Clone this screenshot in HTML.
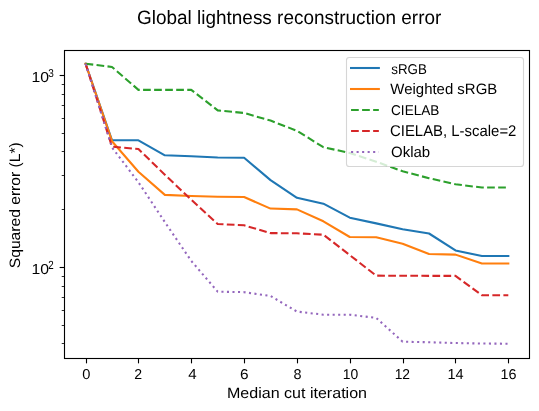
<!DOCTYPE html>
<html><head><meta charset="utf-8"><title>Global lightness reconstruction error</title><style>
html,body{margin:0;padding:0;background:#fff;width:539px;height:411px;overflow:hidden}
svg{display:block;will-change:transform}
text{font-family:"Liberation Sans",sans-serif;fill:#000;text-rendering:geometricPrecision}
</style></head><body>
<svg width="539" height="411" viewBox="0 0 539 411">
<rect x="0" y="0" width="539" height="411" fill="#fff"/>
<polyline points="85.58,63.72 112.00,140.30 138.43,140.30 164.85,155.32 191.27,156.22 217.69,157.52 244.11,157.72 270.53,180.14 296.95,197.76 323.37,203.67 349.79,217.68 376.21,223.39 402.63,229.20 429.05,233.50 455.47,250.42 481.89,256.03 508.31,256.03" fill="none" stroke="#1f77b4" stroke-width="2.083" stroke-linecap="square" stroke-linejoin="round"/>
<polyline points="85.58,63.72 112.00,141.20 138.43,171.74 164.85,194.86 191.27,196.06 217.69,196.76 244.11,197.06 270.53,208.58 296.95,209.38 323.37,221.29 349.79,237.01 376.21,237.31 402.63,243.81 429.05,254.02 455.47,254.62 481.89,263.43 508.31,263.43" fill="none" stroke="#ff7f0e" stroke-width="2.083" stroke-linecap="square" stroke-linejoin="round"/>
<polyline points="85.58,63.72 112.00,66.92 138.43,89.85 164.85,89.85 191.27,89.85 217.69,110.37 244.11,112.97 270.53,120.58 296.95,130.79 323.37,147.21 349.79,153.02 376.21,161.73 402.63,171.24 429.05,178.24 455.47,184.25 481.89,187.55 508.31,187.55" fill="none" stroke="#2ca02c" stroke-width="2.083" stroke-dasharray="7.708 3.333" stroke-linecap="butt" stroke-linejoin="round"/>
<polyline points="85.58,63.72 112.00,146.71 138.43,149.01 164.85,174.74 191.27,199.77 217.69,223.99 244.11,225.29 270.53,233.10 296.95,233.30 323.37,234.70 349.79,255.13 376.21,275.65 402.63,275.75 429.05,275.85 455.47,275.85 481.89,295.17 508.31,295.17" fill="none" stroke="#d62728" stroke-width="2.083" stroke-dasharray="7.708 3.333" stroke-linecap="butt" stroke-linejoin="round"/>
<polyline points="85.58,63.72 112.00,147.41 138.43,182.25 164.85,222.09 191.27,260.93 217.69,291.66 244.11,292.16 270.53,295.97 296.95,311.59 323.37,314.69 349.79,314.69 376.21,317.89 402.63,341.72 429.05,342.22 455.47,343.02 481.89,343.52 508.31,343.72" fill="none" stroke="#9467bd" stroke-width="2.083" stroke-dasharray="2.083 3.438" stroke-linecap="butt" stroke-linejoin="round"/>
<rect x="346.5" y="57.5" width="177" height="109" rx="2.78" ry="2.78" fill="#fff" fill-opacity="0.8" stroke="#ccc" stroke-opacity="0.8" stroke-width="1.11"/>
<line x1="351.06" y1="68" x2="378.84" y2="68" fill="none" stroke="#1f77b4" stroke-width="2.083" stroke-linecap="square" stroke-linejoin="round"/>
<line x1="351.06" y1="89" x2="378.84" y2="89" fill="none" stroke="#ff7f0e" stroke-width="2.083" stroke-linecap="square" stroke-linejoin="round"/>
<line x1="351.06" y1="110" x2="378.84" y2="110" fill="none" stroke="#2ca02c" stroke-width="2.083" stroke-dasharray="7.708 3.333" stroke-linecap="butt" stroke-linejoin="round"/>
<line x1="351.06" y1="131" x2="378.84" y2="131" fill="none" stroke="#d62728" stroke-width="2.083" stroke-dasharray="7.708 3.333" stroke-linecap="butt" stroke-linejoin="round"/>
<line x1="351.06" y1="152" x2="378.84" y2="152" fill="none" stroke="#9467bd" stroke-width="2.083" stroke-dasharray="2.083 3.438" stroke-linecap="butt" stroke-linejoin="round"/>
<rect x="64.5" y="50.5" width="465" height="308" fill="none" stroke="#000" stroke-width="1.11" stroke-linecap="square"/>
<line x1="86.5" y1="358.5" x2="86.5" y2="363.36" stroke="#000" stroke-width="1.11"/>
<line x1="138.5" y1="358.5" x2="138.5" y2="363.36" stroke="#000" stroke-width="1.11"/>
<line x1="191.5" y1="358.5" x2="191.5" y2="363.36" stroke="#000" stroke-width="1.11"/>
<line x1="244.5" y1="358.5" x2="244.5" y2="363.36" stroke="#000" stroke-width="1.11"/>
<line x1="297.5" y1="358.5" x2="297.5" y2="363.36" stroke="#000" stroke-width="1.11"/>
<line x1="350.5" y1="358.5" x2="350.5" y2="363.36" stroke="#000" stroke-width="1.11"/>
<line x1="403.5" y1="358.5" x2="403.5" y2="363.36" stroke="#000" stroke-width="1.11"/>
<line x1="455.5" y1="358.5" x2="455.5" y2="363.36" stroke="#000" stroke-width="1.11"/>
<line x1="508.5" y1="358.5" x2="508.5" y2="363.36" stroke="#000" stroke-width="1.11"/>
<line x1="59.64" y1="75.5" x2="64.5" y2="75.5" stroke="#000" stroke-width="1.11"/>
<line x1="59.64" y1="267.5" x2="64.5" y2="267.5" stroke="#000" stroke-width="1.11"/>
<line x1="61.72" y1="84.5" x2="64.5" y2="84.5" stroke="#000" stroke-width="0.83"/>
<line x1="61.72" y1="94.5" x2="64.5" y2="94.5" stroke="#000" stroke-width="0.83"/>
<line x1="61.72" y1="105.5" x2="64.5" y2="105.5" stroke="#000" stroke-width="0.83"/>
<line x1="61.72" y1="118.5" x2="64.5" y2="118.5" stroke="#000" stroke-width="0.83"/>
<line x1="61.72" y1="133.5" x2="64.5" y2="133.5" stroke="#000" stroke-width="0.83"/>
<line x1="61.72" y1="151.5" x2="64.5" y2="151.5" stroke="#000" stroke-width="0.83"/>
<line x1="61.72" y1="175.5" x2="64.5" y2="175.5" stroke="#000" stroke-width="0.83"/>
<line x1="61.72" y1="209.5" x2="64.5" y2="209.5" stroke="#000" stroke-width="0.83"/>
<line x1="61.72" y1="276.5" x2="64.5" y2="276.5" stroke="#000" stroke-width="0.83"/>
<line x1="61.72" y1="286.5" x2="64.5" y2="286.5" stroke="#000" stroke-width="0.83"/>
<line x1="61.72" y1="297.5" x2="64.5" y2="297.5" stroke="#000" stroke-width="0.83"/>
<line x1="61.72" y1="310.5" x2="64.5" y2="310.5" stroke="#000" stroke-width="0.83"/>
<line x1="61.72" y1="325.5" x2="64.5" y2="325.5" stroke="#000" stroke-width="0.83"/>
<line x1="61.72" y1="343.5" x2="64.5" y2="343.5" stroke="#000" stroke-width="0.83"/>
<text transform="matrix(1.07255,0,0,1.09407,137.087,23.910)" font-size="17.67">Global lightness reconstruction error</text>
<text transform="matrix(1.09063,0,0,1.02387,226.917,397.873)" font-size="14.72">Median cut iteration</text>
<text transform="matrix(0,-1.06207,1.01882,0,19.892,268.237)" font-size="14.72">Squared error (L*)</text>
<text transform="matrix(0.99595,0,0,0.96247,82.152,378.836)" font-size="14.72">0</text>
<text transform="matrix(0.95842,0,0,0.97591,134.297,379.023)" font-size="14.72">2</text>
<text transform="matrix(1.02744,0,0,0.98872,188.178,379.071)" font-size="14.72">4</text>
<text transform="matrix(1.04557,0,0,0.96174,240.098,378.546)" font-size="14.72">6</text>
<text transform="matrix(0.97961,0,0,0.96644,293.471,378.851)" font-size="14.72">8</text>
<text transform="matrix(0.94521,0,0,0.96844,342.649,378.759)" font-size="14.72">10</text>
<text transform="matrix(0.94173,0,0,0.98003,394.637,379.000)" font-size="14.72">12</text>
<text transform="matrix(0.98525,0,0,0.99672,447.554,379.000)" font-size="14.72">14</text>
<text transform="matrix(0.97556,0,0,0.96237,500.610,378.786)" font-size="14.72">16</text>
<text transform="matrix(1.07134,0,0,0.98418,31.521,82.000)" font-size="14.72">10</text>
<text transform="matrix(0.97168,0,0,1.11347,48.249,76.786)" font-size="10.30">3</text>
<text transform="matrix(1.07134,0,0,0.98418,31.521,274.000)" font-size="14.72">10</text>
<text transform="matrix(0.95102,0,0,1.16455,48.291,269.481)" font-size="10.30">2</text>
<text transform="matrix(0.90628,0,0,0.96245,391.232,73.625)" font-size="14.72">sRGB</text>
<text transform="matrix(1.01520,0,0,1.02316,390.364,94.116)" font-size="14.72">Weighted sRGB</text>
<text transform="matrix(0.92383,0,0,0.96236,391.047,114.723)" font-size="14.72">CIELAB</text>
<text transform="matrix(1.01312,0,0,1.05600,389.994,136.469)" font-size="14.72">CIELAB, L-scale=2</text>
<text transform="matrix(1.01805,0,0,1.02263,390.993,156.806)" font-size="14.72">Oklab</text>
</svg>
</body></html>
